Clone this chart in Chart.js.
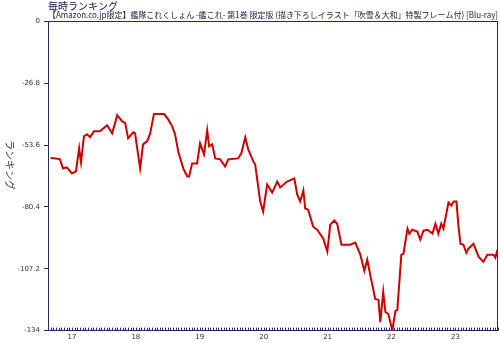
<!DOCTYPE html>
<html><head><meta charset="utf-8">
<script src="https://cdn.jsdelivr.net/npm/chart.js@4/dist/chart.umd.min.js"></script>
<style>html,body{margin:0;padding:0;background:#fff}#wrap{width:500px;height:343px}</style>
</head><body><div id="wrap"><canvas id="c" width="500" height="343"></canvas></div>
<script>
const titleText = "毎時ランキング";
const subtitleText = "【Amazon.co.jp限定】艦隊これくしょん -艦これ- 第1巻 限定版 (描き下ろしイラスト「吹雪＆大和」特製フレーム付) [Blu-ray]";
const yAxisTitle = "ランキング";
const dayLabels = ["17","18","19","20","21","22","23"];
const dayStartHours = [9,33,57,81,105,129,153];
const yTicks = [0,-26.8,-53.6,-80.4,-107.2,-134];
const hours = [1,3,4.5,5.6,7.1,9,10.5,11.7,12.4,13.5,14.7,15.8,17.3,19.5,22.2,24.1,26.0,27.8,29.0,30.1,32.0,32.7,34.6,35.7,37.2,38.3,39.8,43.6,45.1,46.6,47.7,48.9,50.8,52.3,53.0,54.1,56.0,57.1,58.6,59.8,60.5,61.7,62.8,64.7,66.5,67.7,71.4,72.6,74.1,75.2,77.1,77.8,79.7,80.8,82.3,84.2,86.1,87.2,89.8,92.5,93.6,94.7,95.9,96.6,97.7,99.6,101.1,103.4,104.9,106.0,107.5,108.6,110.2,113.5,115.4,117.3,118.8,119.9,121.1,122.9,124.1,124.8,125.9,126.7,127.8,129.3,130.5,131.2,132.7,133.5,135.0,135.7,136.8,138.7,139.8,141.0,142.5,144.4,145.5,146.6,147.7,148.5,150.4,151.5,152.3,153.4,154.1,154.9,156.0,157.1,157.9,159.8,161.7,163.5,165.0,167.3,168.0,168.8];
const ranks = [-59.2,-59.4,-59.8,-63.7,-63.3,-65.9,-65.0,-55.0,-61.1,-49.8,-48.9,-50.2,-47.6,-47.6,-45.0,-48.5,-40.7,-43.3,-44.1,-50.7,-48.1,-48.5,-63.7,-53.3,-52.0,-48.9,-40.2,-40.2,-42.4,-45.4,-48.9,-56.3,-63.7,-67.2,-67.2,-61.6,-61.6,-52.9,-57.6,-47.2,-54.2,-53.3,-59.4,-59.8,-62.9,-59.8,-59.4,-57.2,-50.2,-55.5,-60.7,-62.0,-78.1,-82.4,-70.7,-74.2,-69.4,-72.0,-69.4,-68.1,-75.0,-78.1,-73.3,-81.1,-81.6,-89.0,-90.3,-94.2,-99.8,-88.1,-86.3,-87.7,-96.8,-96.8,-95.9,-101.1,-108.1,-103.3,-110.3,-120.3,-120.7,-130.3,-117.2,-125.9,-126.8,-133.8,-125.5,-125.0,-101.1,-100.7,-89.8,-92.0,-90.3,-91.1,-94.6,-90.7,-90.3,-92.0,-87.7,-92.0,-87.7,-89.8,-78.5,-79.8,-78.1,-78.1,-88.1,-96.4,-96.8,-100.3,-98.5,-96.4,-102.0,-104.2,-101.1,-101.1,-102.4,-99.0];

const navy = '#2a2a5c';
const points = hours.map((h,i)=>({x:h,y:ranks[i]}));

const framePlugin = {
  id:'frame',
  afterDatasetsDraw(chart){
    const {ctx, chartArea:a, scales:{x}} = chart;
    ctx.save();
    ctx.strokeStyle = navy; ctx.lineWidth = 1;
    ctx.strokeRect(Math.round(a.left)+0.5, Math.round(a.top)+0.5, Math.round(a.right-a.left)-1, Math.round(a.bottom-a.top));
    for(let h=Math.ceil(x.min); h<=x.max; h++){
      const px = Math.round(x.getPixelForValue(h))+0.5;
      ctx.beginPath(); ctx.moveTo(px, a.bottom-3); ctx.lineTo(px, a.bottom); ctx.stroke();
    }
    ctx.restore();
  },
  afterDraw(chart){
    const {ctx, chartArea:a} = chart;
    ctx.save();
    ctx.fillStyle = '#333355';
    ctx.font = '10px "Noto Sans CJK JP"';
    ctx.translate(10, 165);
    ctx.rotate(Math.PI/2);
    ctx.textAlign = 'center'; ctx.textBaseline = 'middle';
    ctx.fillText(yAxisTitle, 0, 0);
    ctx.restore();
  }
};

new Chart(document.getElementById('c'), {
  type:'line',
  data:{datasets:[{data:points, borderColor:'#cc0000', borderWidth:2, pointRadius:0, tension:0, fill:false}]},
  options:{
    responsive:false, animation:false,
    layout:{padding:{left:0,right:2,top:0,bottom:0}},
    plugins:{
      legend:{display:false}, tooltip:{enabled:false},
      title:{display:true, text:titleText, align:'start', fullSize:false, color:'#222244', font:{family:'"Noto Sans CJK JP"', size:10, weight:'normal', lineHeight:1}, padding:{top:1,bottom:0}},
      subtitle:{display:true, text:subtitleText, align:'start', fullSize:false, color:'#222244', font:{family:'"Noto Sans CJK JP"', size:8.3, weight:'normal', lineHeight:1}, padding:{top:0,bottom:2}}
    },
    scales:{
      x:{type:'linear', min:0, max:169,
        afterBuildTicks(s){ s.ticks = dayStartHours.map(v=>({value:v})); },
        ticks:{autoSkip:false, maxRotation:0, padding:2, color:'#333', font:{family:'"DejaVu Sans"', size:7},
          callback:(v)=>{const i=dayStartHours.indexOf(v); return i>=0?dayLabels[i]:'';}},
        grid:{display:false, drawTicks:false}, border:{display:false}
      },
      y:{type:'linear', min:-134, max:0,
        afterBuildTicks(s){ s.ticks = yTicks.map(v=>({value:v})); },
        afterFit(s){ s.width = 48; },
        ticks:{autoSkip:false, padding:4, color:'#333', font:{family:'"DejaVu Sans"', size:7},
          callback:(v)=>{const t=yTicks.find(k=>Math.abs(k-v)<1e-6); return t===undefined?'':String(t);}},
        grid:{drawOnChartArea:false, tickLength:4, color:navy}, border:{display:false}
      }
    }
  },
  plugins:[framePlugin]
});
</script></body></html>
